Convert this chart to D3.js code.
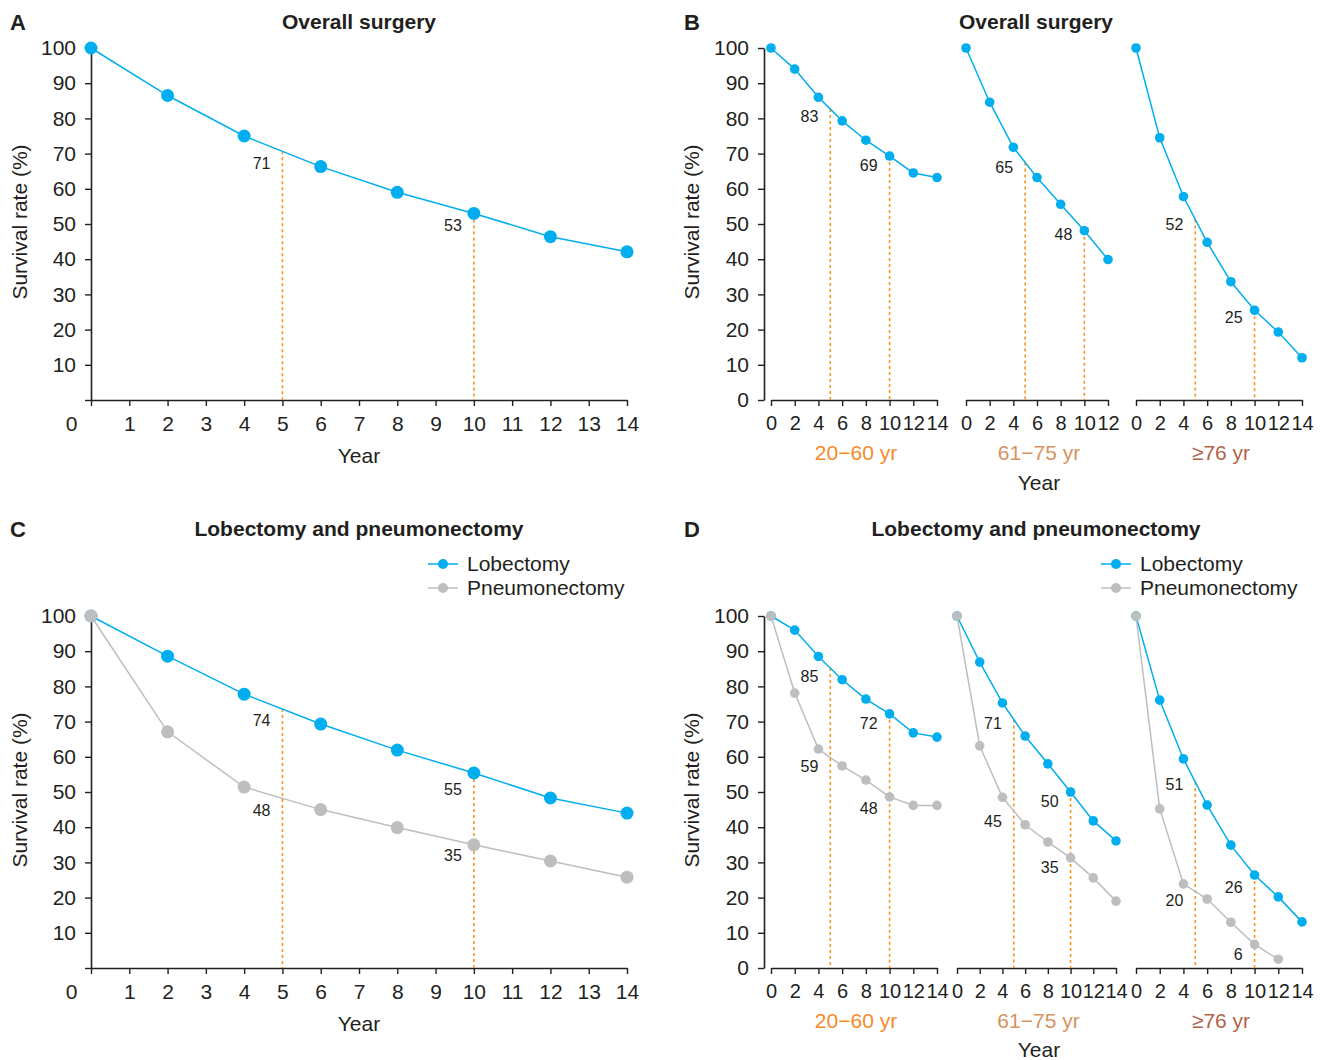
<!DOCTYPE html>
<html><head><meta charset="utf-8">
<script src="https://cdn.jsdelivr.net/npm/d3@7"></script>
<style>
body{margin:0;background:#fff}
text{font-family:"Liberation Sans",Arial,Helvetica,sans-serif;fill:#231f20}
</style>
</head><body>
<svg id="chart" width="1323" height="1060"></svg>
<script>
// ---------------- DATA ----------------
const years = [0, 2, 4, 6, 8, 10, 12, 14];
const yTicks = [0, 10, 20, 30, 40, 50, 60, 70, 80, 90, 100];
const xTicksFull = [0, 1, 2, 3, 4, 5, 6, 7, 8, 9, 10, 11, 12, 13, 14];
const xTicksAge14 = [0, 2, 4, 6, 8, 10, 12, 14];
const xTicksAge12 = [0, 2, 4, 6, 8, 10, 12];
const ageGroups = ["20\u221260 yr", "61\u221275 yr", "\u226576 yr"];
const seriesNames = ["Lobectomy", "Pneumonectomy"];
const annYears = [5, 10];

const overallA = [100, 86.5, 75, 66.3, 59, 53, 46.4, 42.1];
const annA = ["71", "53"];

const overallB2060 = [100, 94, 86, 79.3, 73.8, 69.3, 64.5, 63.2];
const overallB6175 = [100, 84.6, 71.8, 63.2, 55.6, 48.1, 39.9];
const overallB76 = [100, 74.5, 57.8, 44.8, 33.6, 25.5, 19.3, 12];
const annB2060 = ["83", "69"];
const annB6175 = ["65", "48"];
const annB76 = ["52", "25"];

const lobectomyC = [100, 88.6, 77.8, 69.3, 61.9, 55.4, 48.3, 44.0];
const pneumonectomyC = [100, 67.1, 51.4, 45, 39.9, 35, 30.4, 25.8];
const annCLob = ["74", "55"];
const annCPneu = ["48", "35"];

const lobectomyD2060 = [100, 96, 88.5, 81.9, 76.4, 72.2, 66.8, 65.6];
const pneumonectomyD2060 = [100, 78.1, 62.2, 57.4, 53.4, 48.6, 46.2, 46.2];
const lobectomyD6175 = [100, 86.9, 75.3, 65.9, 58.0, 50, 41.8, 36.1];
const pneumonectomyD6175 = [100, 63.1, 48.5, 40.7, 35.8, 31.3, 25.6, 19.0];
const lobectomyD76 = [100, 76.1, 59.4, 46.3, 34.9, 26.4, 20.2, 13.1];
const pneumonectomyD76 = [100, 45.2, 23.9, 19.6, 13.0, 6.7, 2.5];
const annDLob = [["85", "72"], ["71", "50"], ["51", "26"]];
const annDPneu = [["59", "48"], ["45", "35"], ["20", "6"]];

// ---------------- STYLE ----------------
const BLUE = "#00aeef", GRAY = "#bcbec0", INK = "#231f20", DASH = "#f7941d";
const groupColors = ["#f58a2a", "#d8925e", "#b3614a"];

const svg = d3.select("#chart");

function styleAxis(g, fs) {
  g.select(".domain").attr("stroke", INK).attr("stroke-width", 1.6);
  g.selectAll(".tick line").attr("stroke", INK).attr("stroke-width", 1.4);
  g.selectAll(".tick text").attr("fill", INK).style("font-size", fs + "px")
    .style("font-family", '"Liberation Sans", Arial, sans-serif');
}

function drawPanel(cfg) {
  const g = svg.append("g");
  const y = d3.scaleLinear([0, 100], [cfg.y0, cfg.y100]);

  // letter & title
  g.append("text").attr("x", cfg.letterX).attr("y", cfg.titleY).attr("dy", "0.35em")
    .style("font-size", "22px").style("font-weight", "bold").text(cfg.letter);
  g.append("text").attr("x", cfg.titleX).attr("y", cfg.titleY).attr("dy", "0.35em")
    .attr("text-anchor", "middle").style("font-size", "21px").style("font-weight", "bold").text(cfg.title);

  // y axis
  const ya = g.append("g").attr("transform", `translate(${cfg.axisX},0)`)
    .call(d3.axisLeft(y).tickValues(yTicks).tickSize(6).tickPadding(9).tickSizeOuter(0)
      .tickFormat(d => (d === 0 && !cfg.yZeroLabel) ? "" : d));
  styleAxis(ya, 21);
  g.append("text").attr("transform", `translate(${cfg.yTitleX},${(cfg.y0 + cfg.y100 - 4) / 2}) rotate(-90)`)
    .attr("dy", "0.35em").attr("text-anchor", "middle").style("font-size", "21px").text("Survival rate (%)");

  cfg.subs.forEach(sub => {
    const x = d3.scaleLinear([0, sub.max], sub.range);
    const xa = g.append("g").attr("transform", `translate(0,${cfg.y0})`)
      .call(d3.axisBottom(x).tickValues(sub.ticks).tickSize(6).tickPadding(10).tickSizeOuter(0));
    styleAxis(xa, sub.fs);
    if (sub.zeroLeft) xa.selectAll(".tick text").filter(d => d === 0).attr("x", -20);

    const interp = (vals, yr) => d3.scaleLinear(years.slice(0, vals.length), vals)(yr);

    // dashed reference lines
    annYears.forEach(yr => {
      const v = interp(sub.series[0].values, yr);
      g.append("line").attr("x1", x(yr)).attr("x2", x(yr)).attr("y1", y(v)).attr("y2", y(0))
        .attr("stroke", DASH).attr("stroke-width", 1.6).attr("stroke-dasharray", "3,3");
    });

    // series
    sub.series.forEach(s => {
      const xs = years.slice(0, s.values.length);
      g.append("path").datum(s.values)
        .attr("d", d3.line().x((d, i) => x(xs[i])).y(d => y(d)))
        .attr("fill", "none").attr("stroke", s.color).attr("stroke-width", 1.5);
      g.selectAll(null).data(s.values).join("circle")
        .attr("cx", (d, i) => x(xs[i])).attr("cy", d => y(d)).attr("r", cfg.r).attr("fill", s.color);
    });

    // value labels
    sub.labels.forEach(l => {
      const v = interp(sub.series[l.s].values, annYears[l.k]);
      g.append("text").attr("x", x(annYears[l.k]) - 12).attr("y", y(v) + l.dy)
        .attr("dy", "0.35em").attr("text-anchor", "end").style("font-size", "16px").text(l.t);
    });

    if (sub.group !== undefined) {
      g.append("text").attr("x", (sub.range[0] + sub.range[1]) / 2 + 2).attr("y", cfg.groupY)
        .attr("dy", "0.35em").attr("text-anchor", "middle").style("font-size", "21px")
        .style("fill", groupColors[sub.group]).text(ageGroups[sub.group]);
    }
  });

  // x title
  g.append("text").attr("x", cfg.xTitleX).attr("y", cfg.xTitleY).attr("dy", "0.35em")
    .attr("text-anchor", "middle").style("font-size", "21px").text("Year");

  // legend
  if (cfg.legend) {
    [BLUE, GRAY].forEach((c, i) => {
      const ly = cfg.legend.y + i * 24;
      g.append("line").attr("x1", cfg.legend.x).attr("x2", cfg.legend.x + 30).attr("y1", ly).attr("y2", ly)
        .attr("stroke", c).attr("stroke-width", 1.5);
      g.append("circle").attr("cx", cfg.legend.x + 15).attr("cy", ly).attr("r", 5).attr("fill", c);
      g.append("text").attr("x", cfg.legend.x + 39).attr("y", ly).attr("dy", "0.35em")
        .style("font-size", "21px").text(seriesNames[i]);
    });
  }
}

// Panel A
drawPanel({
  letter: "A", letterX: 10, title: "Overall surgery", titleX: 359, titleY: 22,
  y0: 400, y100: 48, axisX: 91, yTitleX: 20, yZeroLabel: false, r: 6.5,
  xTitleX: 359, xTitleY: 456,
  subs: [{
    range: [91, 627], max: 14, ticks: xTicksFull, fs: 21, zeroLeft: true,
    series: [{ values: overallA, color: BLUE }],
    labels: [{ s: 0, k: 0, t: annA[0], dy: 12 }, { s: 0, k: 1, t: annA[1], dy: 12 }]
  }]
});

// Panel B
drawPanel({
  letter: "B", letterX: 684, title: "Overall surgery", titleX: 1036, titleY: 22,
  y0: 400, y100: 48, axisX: 764, yTitleX: 692, yZeroLabel: true, r: 4.8,
  xTitleX: 1039, xTitleY: 483, groupY: 453,
  subs: [
    { range: [771, 937], max: 14, ticks: xTicksAge14, fs: 20, group: 0,
      series: [{ values: overallB2060, color: BLUE }],
      labels: [{ s: 0, k: 0, t: annB2060[0], dy: 7 }, { s: 0, k: 1, t: annB2060[1], dy: 9 }] },
    { range: [966, 1108], max: 12, ticks: xTicksAge12, fs: 20, group: 1,
      series: [{ values: overallB6175, color: BLUE }],
      labels: [{ s: 0, k: 0, t: annB6175[0], dy: 5 }, { s: 0, k: 1, t: annB6175[1], dy: 4 }] },
    { range: [1136, 1302], max: 14, ticks: xTicksAge14, fs: 20, group: 2,
      series: [{ values: overallB76, color: BLUE }],
      labels: [{ s: 0, k: 0, t: annB76[0], dy: 5 }, { s: 0, k: 1, t: annB76[1], dy: 7 }] }
  ]
});

// Panel C
drawPanel({
  letter: "C", letterX: 10, title: "Lobectomy and pneumonectomy", titleX: 359, titleY: 529,
  y0: 968, y100: 616, axisX: 91, yTitleX: 20, yZeroLabel: false, r: 6.5,
  xTitleX: 359, xTitleY: 1024, legend: { x: 428, y: 564 },
  subs: [{
    range: [91, 627], max: 14, ticks: xTicksFull, fs: 21, zeroLeft: true,
    series: [{ values: lobectomyC, color: BLUE }, { values: pneumonectomyC, color: GRAY }],
    labels: [
      { s: 0, k: 0, t: annCLob[0], dy: 11 }, { s: 0, k: 1, t: annCLob[1], dy: 16 },
      { s: 1, k: 0, t: annCPneu[0], dy: 12 }, { s: 1, k: 1, t: annCPneu[1], dy: 11 }]
  }]
});

// Panel D
drawPanel({
  letter: "D", letterX: 684, title: "Lobectomy and pneumonectomy", titleX: 1036, titleY: 529,
  y0: 968, y100: 616, axisX: 764, yTitleX: 692, yZeroLabel: true, r: 4.8,
  xTitleX: 1039, xTitleY: 1050, groupY: 1021, legend: { x: 1101, y: 564 },
  subs: [
    { range: [771, 937], max: 14, ticks: xTicksAge14, fs: 20, group: 0,
      series: [{ values: lobectomyD2060, color: BLUE }, { values: pneumonectomyD2060, color: GRAY }],
      labels: [{ s: 0, k: 0, t: annDLob[0][0], dy: 8 }, { s: 0, k: 1, t: annDLob[0][1], dy: 10 },
               { s: 1, k: 0, t: annDPneu[0][0], dy: 9 }, { s: 1, k: 1, t: annDPneu[0][1], dy: 11 }] },
    { range: [957, 1116], max: 14, ticks: xTicksAge14, fs: 20, group: 1,
      series: [{ values: lobectomyD6175, color: BLUE }, { values: pneumonectomyD6175, color: GRAY }],
      labels: [{ s: 0, k: 0, t: annDLob[1][0], dy: 4 }, { s: 0, k: 1, t: annDLob[1][1], dy: 9 },
               { s: 1, k: 0, t: annDPneu[1][0], dy: 10 }, { s: 1, k: 1, t: annDPneu[1][1], dy: 10 }] },
    { range: [1136, 1302], max: 14, ticks: xTicksAge14, fs: 20, group: 2,
      series: [{ values: lobectomyD76, color: BLUE }, { values: pneumonectomyD76, color: GRAY }],
      labels: [{ s: 0, k: 0, t: annDLob[2][0], dy: 2 }, { s: 0, k: 1, t: annDLob[2][1], dy: 12 },
               { s: 1, k: 0, t: annDPneu[2][0], dy: 9 }, { s: 1, k: 1, t: annDPneu[2][1], dy: 10 }] }
  ]
});
</script>
</body></html>
